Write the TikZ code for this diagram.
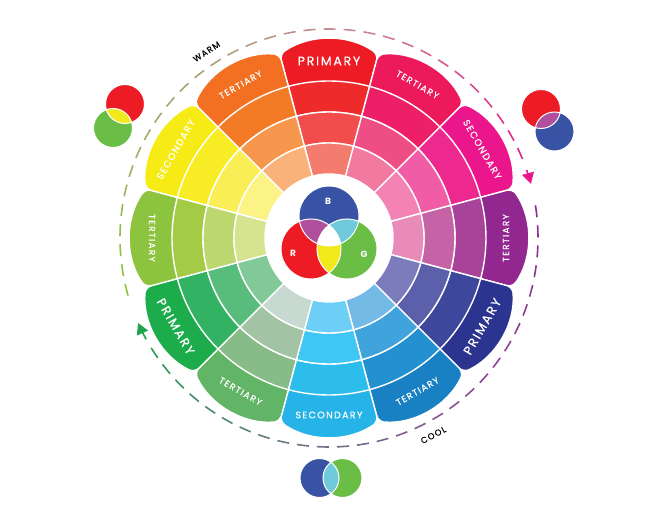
\documentclass[tikz,border=0pt]{standalone}
\usepackage{fontspec}
\setmainfont{Poppins}
\newfontfamily\labelfont[FakeBold=0.4,LetterSpace=14]{Poppins}
\usetikzlibrary{arrows.meta}

% outer band (A) to inner band (D) of every hue
\definecolor{redA}{HTML}{ED1C24}\definecolor{redB}{HTML}{EE2A2B}\definecolor{redC}{HTML}{F04D4C}\definecolor{redD}{HTML}{F37C6F}
\definecolor{orangeA}{HTML}{F36F21}\definecolor{orangeB}{HTML}{F47B25}\definecolor{orangeC}{HTML}{F7974D}\definecolor{orangeD}{HTML}{FBB27A}
\definecolor{yellowA}{HTML}{F6EB14}\definecolor{yellowB}{HTML}{F8EC24}\definecolor{yellowC}{HTML}{F9EE56}\definecolor{yellowD}{HTML}{FBF385}
\definecolor{limeA}{HTML}{8CC43F}\definecolor{limeB}{HTML}{A3CB45}\definecolor{limeC}{HTML}{BCD76E}\definecolor{limeD}{HTML}{D6E490}
\definecolor{greenA}{HTML}{1DAC4B}\definecolor{greenB}{HTML}{33B264}\definecolor{greenC}{HTML}{58BD7C}\definecolor{greenD}{HTML}{82C99A}
\definecolor{sageA}{HTML}{62B466}\definecolor{sageB}{HTML}{87BB88}\definecolor{sageC}{HTML}{A3C4A4}\definecolor{sageD}{HTML}{C7D9D0}
\definecolor{skyA}{HTML}{25B3E8}\definecolor{skyB}{HTML}{2DBDED}\definecolor{skyC}{HTML}{3FC6F2}\definecolor{skyD}{HTML}{6DCFF6}
\definecolor{blueA}{HTML}{1980C4}\definecolor{blueB}{HTML}{2391D0}\definecolor{blueC}{HTML}{41A3DB}\definecolor{blueD}{HTML}{74BAE6}
\definecolor{indigoA}{HTML}{2B3590}\definecolor{indigoB}{HTML}{3D489C}\definecolor{indigoC}{HTML}{5C5FA9}\definecolor{indigoD}{HTML}{7C7CBC}
\definecolor{purpleA}{HTML}{92278F}\definecolor{purpleB}{HTML}{A84399}\definecolor{purpleC}{HTML}{C563A6}\definecolor{purpleD}{HTML}{E98BB9}
\definecolor{pinkA}{HTML}{EC168C}\definecolor{pinkB}{HTML}{ED2990}\definecolor{pinkC}{HTML}{F05CA6}\definecolor{pinkD}{HTML}{F383B5}
\definecolor{roseA}{HTML}{EC1A5B}\definecolor{roseB}{HTML}{ED2067}\definecolor{roseC}{HTML}{EF4E85}\definecolor{roseD}{HTML}{F279A0}
% mixing circles
\definecolor{mixR}{HTML}{ED1C24}\definecolor{mixG}{HTML}{6ABD45}\definecolor{mixB}{HTML}{3953A4}
\definecolor{mixRB}{HTML}{B04F9E}\definecolor{mixBG}{HTML}{6FCADC}\definecolor{mixRG}{HTML}{F2E91A}
% dashed ring
\definecolor{warmA}{HTML}{8DC43F}\definecolor{warmB}{HTML}{A4A772}\definecolor{warmC}{HTML}{C58C98}\definecolor{warmD}{HTML}{E8178A}
\definecolor{coolA}{HTML}{902A8E}\definecolor{coolB}{HTML}{8A4D9A}\definecolor{coolC}{HTML}{687A80}\definecolor{coolD}{HTML}{22A24E}

\newcommand\wheelcell[4]{\filldraw[wheel,fill=#4] (#1-15:#2) arc[start angle=#1-15,end angle=#1+15,radius=#2] -- (#1+15:#3) arc[start angle=#1+15,end angle=#1-15,radius=#3] -- cycle;}

\begin{document}
\begin{tikzpicture}[x=1pt,y=1pt,
  wheel/.style={draw=white,line width=1.4pt},
  seglabel/.style={text=white,inner sep=0pt,font=\labelfont\fontsize{9}{9}\selectfont},
  primlabel/.style={seglabel,font=\labelfont\fontsize{12.5}{13}\selectfont},
  seclabel/.style={seglabel,font=\labelfont\fontsize{9.5}{10}\selectfont},
  rgblabel/.style={text=white,inner sep=0pt,font=\bfseries\fontsize{9}{9}\selectfont},
  venn/.style={draw=white,line width=1pt},
  dashpiece/.style={line width=1.6pt},
  hint/.style={text=black,inner sep=0pt,font=\labelfont\fontsize{8.5}{9}\selectfont}]
\useasboundingbox (-329,-284) rectangle (333,238);

% petals of the outer band
\foreach \a/\c in {90/redA,60/roseA,30/pinkA,0/purpleA,-30/indigoA,-60/blueA,-90/skyA,-120/sageA,-150/greenA,180/limeA,150/yellowA,120/orangeA}{
  \begin{scope}[rotate=\a]
  \filldraw[wheel,fill=\c,rounded corners=6pt] (-15:130) -- (-15:190) arc[start angle=-35,end angle=35,radius=85.8] -- (15:130) -- cycle;
  \end{scope}}

% inner bands
\foreach \a/\cb/\cc/\cd in {90/redB/redC/redD,60/roseB/roseC/roseD,30/pinkB/pinkC/pinkD,0/purpleB/purpleC/purpleD,
  -30/indigoB/indigoC/indigoD,-60/blueB/blueC/blueD,-90/skyB/skyC/skyD,-120/sageB/sageC/sageD,
  -150/greenB/greenC/greenD,180/limeB/limeC/limeD,150/yellowB/yellowC/yellowD,120/orangeB/orangeC/orangeD}{
  \wheelcell{\a}{126}{157}{\cb}
  \wheelcell{\a}{95}{126}{\cc}
  \wheelcell{\a}{64}{95}{\cd}}

\foreach \a/\r/\t/\s in {90/0/PRIMARY/primlabel,60/-30/TERTIARY/seglabel,30/-60/SECONDARY/seclabel,0/90/TERTIARY/seglabel,
  -30/60/PRIMARY/primlabel,-60/30/TERTIARY/seglabel,-90/0/SECONDARY/seclabel,-120/-30/TERTIARY/seglabel,
  -150/-60/PRIMARY/primlabel,180/-90/TERTIARY/seglabel,150/60/SECONDARY/seclabel,120/30/TERTIARY/seglabel}
  \node[\s,rotate=\r] (lab\a) at (\a:177) {\t};

% additive mixing in the middle
\coordinate (cB) at (0,22);
\coordinate (cR) at (-18,-11);
\coordinate (cG) at (18,-11);
\fill[mixB] (cB) circle[radius=30];
\fill[mixR] (cR) circle[radius=30];
\fill[mixG] (cG) circle[radius=30];
\begin{scope}
\clip (cB) circle[radius=30];
\fill[mixRB] (cR) circle[radius=30];
\fill[mixBG] (cG) circle[radius=30];
\end{scope}
\begin{scope}
\clip (cR) circle[radius=30];
\fill[mixRG] (cG) circle[radius=30];
\clip (cB) circle[radius=30];
\fill[white] (cG) circle[radius=30];
\end{scope}
\draw[venn] (cB) circle[radius=30] (cR) circle[radius=30] (cG) circle[radius=30];
\node[rgblabel] (labB) at (-1,37) {B};
\node[rgblabel] (labR) at (-36,-15) {R};
\node[rgblabel] (labG) at (35,-16) {G};

% small pairs
\coordinate (yl1) at (-204,134);\coordinate (yl2) at (-216,110);
\coordinate (pu1) at (212,129);\coordinate (pu2) at (225.5,106.5);
\coordinate (cy1) at (-9.5,-240);\coordinate (cy2) at (13.5,-240);
\foreach \u/\v/\cu/\cv/\cl in {yl1/yl2/mixR/mixG/mixRG,pu1/pu2/mixR/mixB/mixRB,cy1/cy2/mixB/mixG/mixBG}{
  \fill[\cu] (\u) circle[radius=19.5];
  \fill[\cv] (\v) circle[radius=19.5];
  \begin{scope}
  \clip (\u) circle[radius=19.5];
  \fill[\cl] (\v) circle[radius=19.5];
  \end{scope}
  \draw[venn] (\u) circle[radius=19.5] (\v) circle[radius=19.5];}

% dashed ring, colour running along it
\foreach \s/\n/\ca/\cb in {196/10/warmA/warmB,141/10/warmB/warmC,86/12/warmC/warmD,9/10/coolA/coolB,-46/10/coolB/coolC,-101/9/coolC/coolD}
  \foreach \k in {1,...,\n}{
    \pgfmathsetmacro\ang{\s-5.5*(\k-1)}
    \pgfmathsetmacro\mix{100-100*(\k-1)/\n}
    \draw[dashpiece,\ca!\mix!\cb] (\ang:209) arc[start angle=\ang,end angle=\ang-3.3,radius=209];}
\draw[dashpiece,warmD,-{Triangle[length=11pt,width=12pt]}] (19:209) arc[start angle=19,end angle=15,radius=209];
\draw[dashpiece,coolD,-{Triangle[length=11pt,width=12pt]}] (-151:209) arc[start angle=-151,end angle=-156,radius=209];
\node[hint,rotate=33] (warm) at (123.3:223) {WARM};
\node[hint,rotate=28] (cool) at (-62.1:223) {COOL};
\end{tikzpicture}
\end{document}
